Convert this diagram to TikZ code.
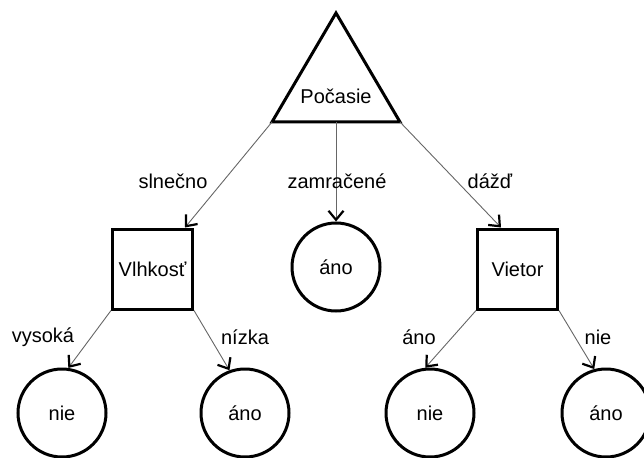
\documentclass[tikz,border=0pt]{standalone}
\usepackage{fontspec}
\setmainfont{Liberation Sans}
\usetikzlibrary{arrows.meta}
\begin{document}
\begin{tikzpicture}[x=1pt,y=-1pt,
  txt/.style={font=\fontsize{20}{24}\selectfont},
  shapeline/.style={draw=black,line width=3pt},
  leaf/.style={shapeline,circle,minimum size=88pt,inner sep=0pt,txt},
  testbox/.style={shapeline,rectangle,minimum width=80pt,minimum height=80pt,inner sep=0pt,txt},
  lbl/.style={inner sep=0pt,txt},
  conn/.style={draw=black!60,line width=0.9pt,-{Straight Barb[length=9pt,width=15pt,line width=2.2pt,color=black]}},
]
\useasboundingbox (0,0) rectangle (644,457);
% root triangle
\coordinate (apex) at (336,13);
\coordinate (bl) at (272,122);
\coordinate (bm) at (336,122);
\coordinate (br) at (400,122);
\draw[shapeline,line join=miter] (apex) -- (bl) -- (br) -- cycle;
\node[lbl] (pocasie) at (336,96) {Počasie};
% level 1
\node[testbox] (vl) at (152.5,269) {Vlhkosť};
\node[leaf] (mid) at (336,267) {áno};
\node[testbox] (vt) at (517.5,269) {Vietor};
% level 2
\node[leaf] (c1) at (62,413) {nie};
\node[leaf] (c2) at (245,413) {áno};
\node[leaf] (c3) at (430,413) {nie};
\node[leaf] (c4) at (606,413) {áno};
% connectors
\draw[conn] (bl) -- ([xshift=-9pt]vl.north east);
\draw[conn] (bm) -- (mid.north);
\draw[conn] (br) -- ([xshift=25pt]vt.north west);
\draw[conn] (vl.south west) -- (c1.82);
\draw[conn] (vl.south east) -- (c2.110);
\draw[conn] (vt.south west) -- (c3.96);
\draw[conn] (vt.south east) -- (c4.105);
% labels
\node[lbl] (l1) at (173,181) {slnečno};
\node[lbl] (l2) at (337,181) {zamračené};
\node[lbl] (l3) at (490,181) {dážď};
\node[lbl] (l4) at (43,337) {vysoká};
\node[lbl] (l5) at (245,337) {nízka};
\node[lbl] (l6) at (419,337) {áno};
\node[lbl] (l7) at (598,337) {nie};
\end{tikzpicture}
\end{document}
